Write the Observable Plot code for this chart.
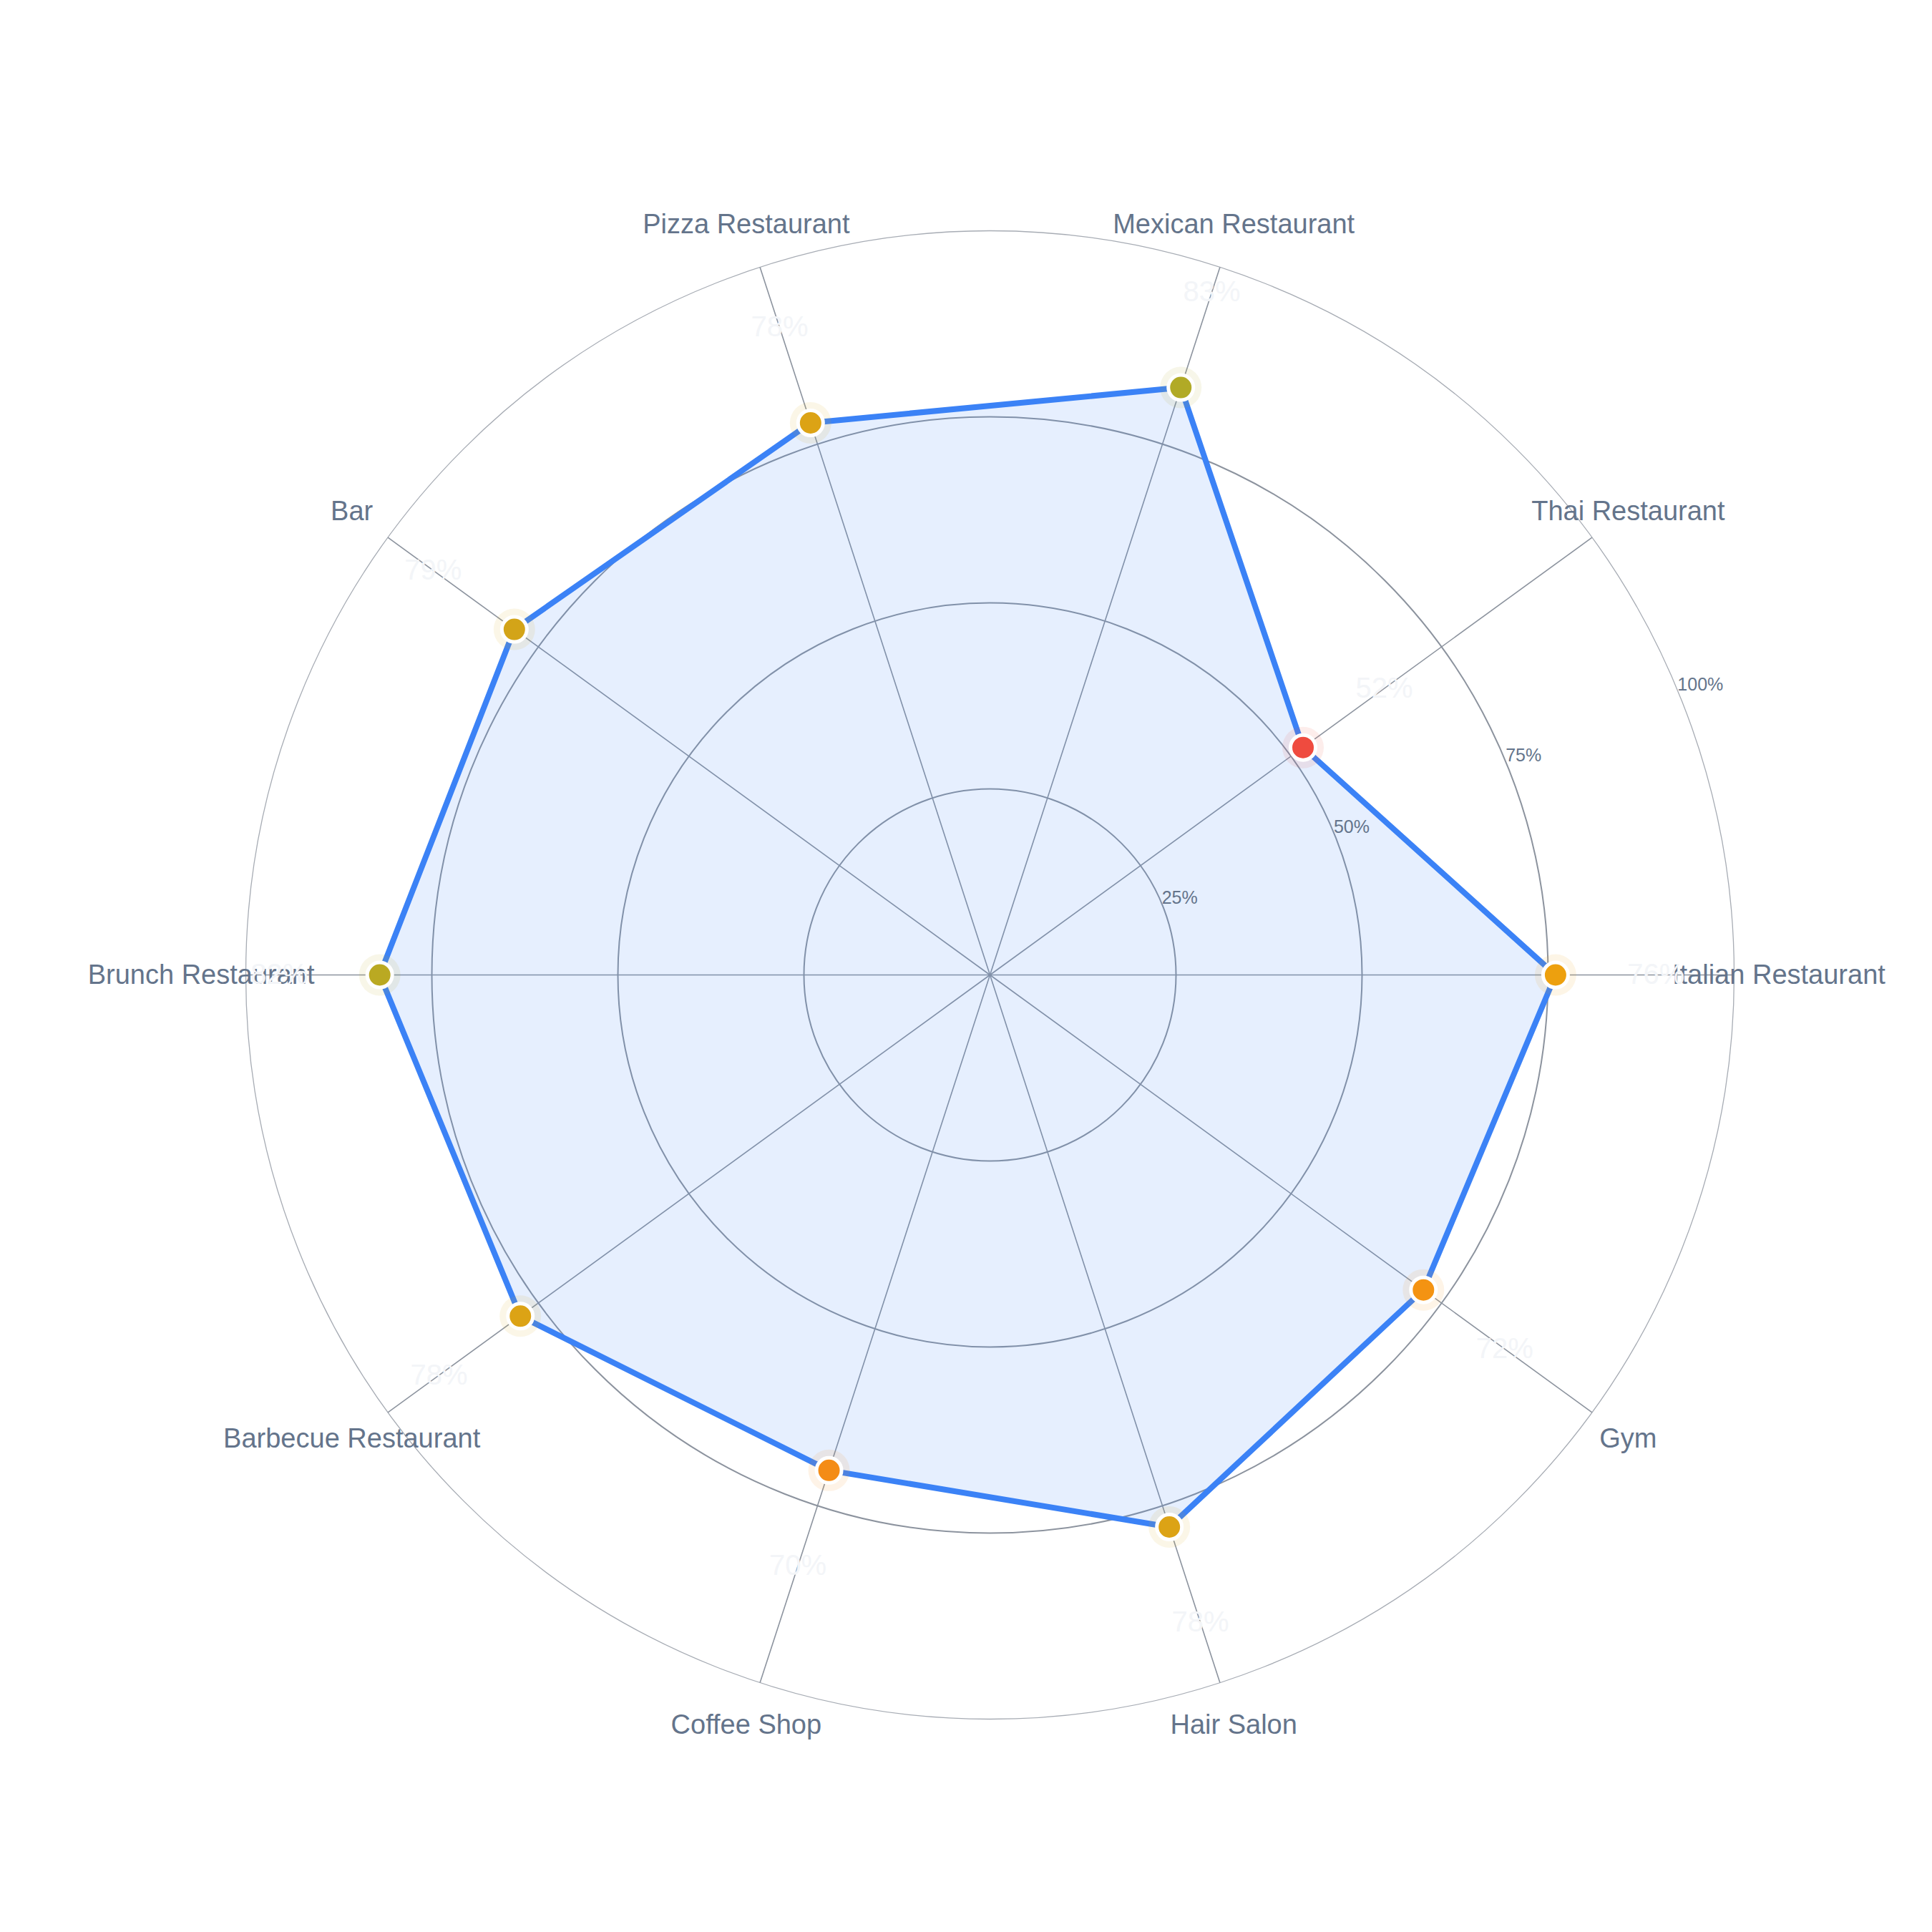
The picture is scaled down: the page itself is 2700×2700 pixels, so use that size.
<!DOCTYPE html>
<html><head><meta charset="utf-8">
<script src="https://cdn.jsdelivr.net/npm/d3@7"></script>
<script src="https://cdn.jsdelivr.net/npm/@observablehq/plot@0.6"></script>
<style>html,body{margin:0;padding:0;background:#fff} svg{display:block}</style>
</head><body><div id="chart"></div>
<script>
const categories = ["Italian Restaurant","Thai Restaurant","Mexican Restaurant","Pizza Restaurant","Bar","Brunch Restaurant","Barbecue Restaurant","Coffee Shop","Hair Salon","Gym"];
const values = [76, 52, 83, 78, 79, 82, 78, 70, 78, 72];
const ringTicks = [25, 50, 75, 100];
const tickLabels = ["25%", "50%", "75%", "100%"];

const n = categories.length;
const ang = i => (i * 2 * Math.PI) / n;
const rows = categories.map((c, i) => ({cat: c, v: values[i], a: ang(i)}));
const closed = [...rows, rows[0]];
const rings = ringTicks.map((t, i) => ({t, label: tickLabels[i]}));
const tickAngle = 22.5 * Math.PI / 180;

const font = "'Liberation Sans', Arial, Helvetica, sans-serif";

const chart = Plot.plot({
  width: 2700, height: 2700,
  marginLeft: 343, marginRight: 277, marginTop: 322, marginBottom: 298,
  style: {fontFamily: font, background: "#fff"},
  x: {domain: [-100, 100], axis: null},
  y: {domain: [-100, 100], axis: null},
  r: {type: "linear", domain: [0, 100], range: [0, 1040]},
  color: {type: "linear", domain: [50, 75, 100], range: ["#ef4444", "#f59e0b", "#22c55e"], interpolate: "rgb"},
  marks: [
    Plot.dot(rings.filter(d => d.t < 100), {x: () => 0, y: () => 0, r: "t", stroke: "#8c939e", strokeWidth: 2, fill: "none"}),
    Plot.dot(rings.filter(d => d.t === 100), {x: () => 0, y: () => 0, r: "t", stroke: "#a7acb4", strokeWidth: 1.3, fill: "none"}),
    Plot.link(rows, {x1: () => 0, y1: () => 0, x2: d => 100 * Math.cos(d.a), y2: d => 100 * Math.sin(d.a), stroke: "#8c939e", strokeWidth: 1.6}),
    Plot.line(closed, {x: d => d.v * Math.cos(d.a), y: d => d.v * Math.sin(d.a), fill: "#3b82f6", fillOpacity: 0.13, stroke: "none"}),
    Plot.line(closed, {x: d => d.v * Math.cos(d.a), y: d => d.v * Math.sin(d.a), stroke: "#3b82f6", strokeWidth: 8, strokeLinejoin: "round", strokeLinecap: "round"}),
    Plot.dot(rows, {x: d => d.v * Math.cos(d.a), y: d => d.v * Math.sin(d.a), r: 29, fill: "v", fillOpacity: 0.1}),
    Plot.dot(rows, {x: d => d.v * Math.cos(d.a), y: d => d.v * Math.sin(d.a), r: 17.5, fill: "v", stroke: "#fff", strokeWidth: 5}),
    Plot.text(rows, {x: d => 106 * Math.cos(d.a), y: d => 106 * Math.sin(d.a), text: "cat", fontSize: 38, fill: "#64748b", textAnchor: "middle", lineAnchor: "middle"}),
    Plot.text(rows, {x: d => (d.v + 13.5) * Math.cos(d.a), y: d => (d.v + 13.5) * Math.sin(d.a), text: d => `${d.v}%`, fontSize: 40, fill: "#f3f5f8", textAnchor: "middle", lineAnchor: "middle"}),
    Plot.text(rings, {x: d => d.t * Math.cos(tickAngle), y: d => d.t * Math.sin(tickAngle), text: "label", fontSize: 25, fill: "#64748b", textAnchor: "start", lineAnchor: "bottom"})
  ]
});
document.getElementById("chart").appendChild(chart);
</script>
</body></html>
